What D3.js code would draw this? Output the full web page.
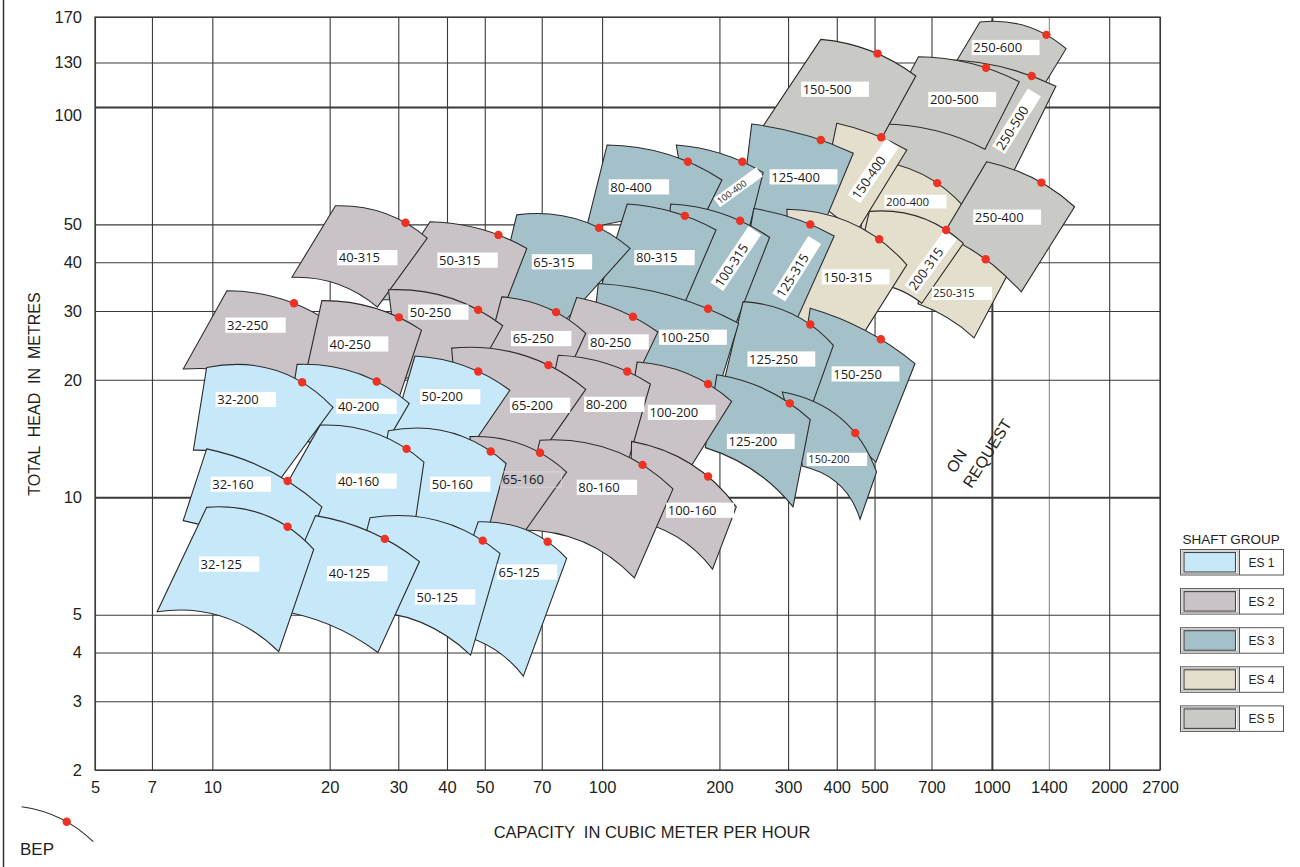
<!DOCTYPE html>
<html>
<head>
<meta charset="utf-8">
<script src="https://cdn.jsdelivr.net/npm/d3@7"></script>
<style>
  body { margin: 0; background: #fff; }
  svg { display: block; }
</style>
</head>
<body>
<svg id="chart" width="1300" height="867"></svg>
<script>
// ---------------- DATA ----------------
const xTicks = [5, 7, 10, 20, 30, 40, 50, 70, 100, 200, 300, 400, 500, 700, 1000, 1400, 2000, 2700];
const yTicks = [2, 3, 4, 5, 10, 20, 30, 40, 50, 100, 130, 170];
const shaftGroups = ["ES 1", "ES 2", "ES 3", "ES 4", "ES 5"];

// pump models (in drawing order), capacity Q in m3/h, head H in m
const models = ["250-600","250-500","200-500","150-500","200-400","250-400","150-400","125-400","100-400","80-400",
  "250-315","200-315","150-315","125-315","100-315","80-315","65-315","50-315","40-315",
  "150-250","125-250","100-250","80-250","65-250","50-250","32-250","40-250",
  "150-200","125-200","100-200","80-200","65-200","50-200","40-200","32-200",
  "100-160","80-160","65-160","50-160","40-160","32-160",
  "65-125","50-125","40-125","32-125"];
const shaft = [5,5,5,5,4,5,4,3,3,3,
  4,4,4,3,3,3,3,2,2,
  3,3,3,2,2,2,2,2,
  3,3,2,2,2,1,1,1,
  2,2,2,1,1,1,
  1,1,1,1];
// corners of each operating field [Q, H]
const topLeft = [[932,165],[674,132],[648,134.5],[364,149],[487,73.1],[970,72.4],[400,90.8],[242,90.4],[155,79.9],[103,79.9],
  [715,47.8],[485,54.0],[298,54.7],[245,54.9],[150,56.4],[116,56.4],[60.4,52.9],[36.2,50.8],[20.7,55.8],
  [342,30.5],[230,31.7],[97.8,35.3],[86.1,32.5],[55.3,32.6],[28.3,34.0],[10.9,33.8],[19.1,31.9],
  [290,18.6],[197,20.6],[123,22.2],[77.2,23.1],[41.1,24.1],[33.1,23.0],[16.5,21.9],[9.67,21.5],
  [119,13.9],[69.3,14.0],[45.8,14.3],[28.3,14.8],[18.9,15.3],[9.67,13.3],
  [48.1,8.65],[25.4,8.86],[18.4,8.97],[9.67,9.42]];
const topRight = [[1550,141],[1460,113],[1176,116],[638,120],[853,55.1],[1630,55.5],[605,77.6],[441,76.1],[259,67.9],[203,65.0],
  [1090,36.7],[845,44.7],[605,39.4],[394,46.7],[269,46.3],[196,48.4],[118,43.4],[64.1,43.4],[35.6,46.1],
  [635,22.0],[392,24.5],[224,27.9],[139,26.5],[90.8,26.3],[55.6,27.5],[20.0,28.1],[34.4,26.8],
  [506,11.6],[342,15.8],[215,17.6],[133,19.5],[90.8,18.9],[58.0,18.8],[32.0,17.4],[20.4,17.0],
  [221,9.45],[152,10.5],[81.1,11.6],[56.7,12.2],[34.9,12.3],[19.1,9.45],
  [81.1,6.97],[54.7,7.18],[34.0,6.84],[18.2,7.35]];
const bottomRight = [[1310,107],[943,47.0],[960,77.9],[478,71.0],[715,41.7],[1190,33.6],[445,47.0],[367,49.0],[237,47.8],[178,49.8],
  [900,25.6],[661,31.4],[448,24.5],[307,26.8],[217,26.8],[158,29.3],[74.4,26.0],[54.1,28.1],[26.5,30.7],
  [504,12.3],[338,16.2],[195,17.7],[118,18.8],[78.9,19.4],[45.8,19.4],[18.7,17.7],[29.4,16.7],
  [459,8.78],[309,9.45],[161,11.1],[114,11.4],[67.3,12.3],[41.9,11.7],[25.4,11.7],[14.2,10.4],
  [192,6.54],[121,6.21],[59.8,7.54],[48.6,6.90],[32.2,7.11],[16.3,6.32],
  [62.8,3.48],[46.0,3.94],[26.6,4.00],[14.8,4.02]];
const bottomLeft = [[758,117],[420,59.5],[525,90.4],[250,84.7],[459,47.0],[736,45.6],[362,56.1],[226,51.3],[168,49.8],[90.9,48.4],
  [646,31.3],[438,35.0],[303,26.8],[219,28.5],[141,32.0],[98.8,34.0],[53.1,31.1],[26.6,32.0],[16.0,36.6],
  [312,16.7],[203,18.8],[93.1,22.5],[75.7,22.5],[50.1,22.5],[30.3,20.0],[8.42,21.3],[17.4,20.9],
  [327,12.0],[184,13.4],[114,14.0],[69.3,14.0],[43.2,14.0],[28.6,14.0],[15.4,14.0],[8.94,13.2],
  [118,8.74],[60.8,8.24],[48.6,8.74],[25.4,8.24],[13.4,8.34],[8.42,8.71],
  [38.4,4.51],[21.9,5.08],[14.5,5.14],[7.22,5.09]];
// best efficiency points [Q, H]
const bep = [[1380,153],[1265,120],[966,126],[509,137],[724,63.8],[1340,64.0],[520,83.6],[364,82.3],[229,72.4],[166,72.4],
  [964,40.7],[763,48.4],[514,45.8],[342,50.0],[226,51.1],[163,52.6],[98.2,49.0],[54.2,47.0],[31.3,50.5],
  [519,25.4],[342,27.7],[187,30.4],[120,29.0],[76.2,29.8],[48.1,30.2],[16.2,31.4],[30.1,28.9],
  [446,14.6],[303,17.4],[187,19.5],[116,21.0],[72.8,21.8],[48.1,21.0],[26.4,19.8],[17.0,19.7],
  [187,11.3],[127,12.1],[69.3,13.0],[51.8,13.1],[31.5,13.3],[15.6,11.0],
  [72.5,7.69],[49.4,7.74],[27.7,7.82],[15.6,8.40]];
// where each model name sits [Q, H]
const labelAt = [[888,142],[1040,77.6],[687,104.5],[324,111],[530,57.2],[896,52.2],[443,58.1],[269,66.2],[197,56.8],[104,62.4],
  [701,33.3],[619,34.0],[366,36.7],[284,32.5],[197,34.6],[121,41.1],[66.0,40.1],[37.8,40.5],[20.9,41.1],
  [388,20.7],[236,22.6],[140,25.7],[92.2,25.0],[58.4,25.5],[31.8,29.8],[10.8,27.6],[19.8,24.7],
  [335,12.5],[209,13.9],[131,16.5],[89.9,17.3],[58.0,17.2],[34.1,18.1],[20.8,17.1],[10.2,17.8],
  [146,9.26],[86.1,10.6],[55.0,11.1],[36.2,10.8],[20.8,11.0],[9.90,10.8],
  [53.7,6.43],[33.1,5.55],[19.7,6.37],[9.24,6.74]];
const onRequestAt = [804, 11.47];

// ---------------- STYLE ----------------
const groupColors = ["#c6e8f8", "#c9c3c8", "#a4c1ca", "#e4decc", "#c9cac6"];
const labelAngle = {"100-315": -56, "125-315": -58, "150-400": -55.5, "200-315": -54, "250-500": -58, "100-400": -36};
const labelSize = {"100-400": 9, "150-200": 11, "200-400": 11.5, "250-315": 11};
const outlineOnly = new Set(["65-160"]);
const sans = "'Liberation Sans', Arial, Helvetica, sans-serif";
const labelFont = "'Open Sans', 'Noto Sans', sans-serif";

// ---------------- CHART ----------------
const svg = d3.select("#chart");
const W = 1300, H = 867;
const x = d3.scaleLog().domain([5, 2700]).range([95, 1160]);
const y = d3.scaleLog().domain([2, 170]).range([770, 17]);

svg.append("rect").attr("width", W).attr("height", H).attr("fill", "#fff");
svg.append("line").attr("x1", 3.5).attr("x2", 3.5).attr("y1", 0).attr("y2", H)
  .attr("stroke", "#333").attr("stroke-width", 1.5);

// grid + tick labels via axes
const gx = svg.append("g").attr("transform", `translate(0,${y(2)})`)
  .call(d3.axisBottom(x).tickValues(xTicks).tickFormat(d => String(d))
    .tickSize(-(y(2) - y(170))).tickPadding(11));
gx.select(".domain").remove();
gx.selectAll(".tick line")
  .attr("stroke", d => d === 1400 ? "#8c8c8c" : "#3a3a3a")
  .attr("stroke-width", d => d === 1000 ? 2 : 1.1);
gx.selectAll(".tick text").attr("font-family", sans).attr("font-size", 16.5).attr("fill", "#231f20");

const gy = svg.append("g").attr("transform", `translate(${x(5)},0)`)
  .call(d3.axisLeft(y).tickValues(yTicks).tickFormat(d => String(d))
    .tickSize(-(x(2700) - x(5))).tickPadding(13));
gy.select(".domain").remove();
gy.selectAll(".tick line")
  .attr("stroke", "#3a3a3a")
  .attr("stroke-width", d => (d === 10 || d === 100) ? 2 : 1.1);
gy.selectAll(".tick text").attr("font-family", sans).attr("font-size", 16.5).attr("fill", "#231f20");
gy.selectAll(".tick text").filter(d => d === 100).attr("dy", "0.8em");

svg.append("rect").attr("x", x(5)).attr("y", y(170))
  .attr("width", x(2700) - x(5)).attr("height", y(2) - y(170))
  .attr("fill", "none").attr("stroke", "#3a3a3a").attr("stroke-width", 1.2);

// geometry helpers
function fitControl(p0, p2, b) {
  const dx = p2[0] - p0[0], dy = p2[1] - p0[1], L2 = dx * dx + dy * dy;
  let t = ((b[0] - p0[0]) * dx + (b[1] - p0[1]) * dy) / L2;
  t = Math.max(0.15, Math.min(0.88, t));
  const k = 2 * t * (1 - t);
  return [(b[0] - (1 - t) ** 2 * p0[0] - t * t * p2[0]) / k,
          (b[1] - (1 - t) ** 2 * p0[1] - t * t * p2[1]) / k];
}
function frame(p0, p2) {
  const dx = p2[0] - p0[0], dy = p2[1] - p0[1], L = Math.hypot(dx, dy);
  return { L, u: [dx / L, dy / L], v: [dy / L, -dx / L], m: [(p0[0] + p2[0]) / 2, (p0[1] + p2[1]) / 2] };
}
const P = d => [x(d[0]), y(d[1])];

function fieldPath(i) {
  const tl = P(topLeft[i]), tr = P(topRight[i]), br = P(bottomRight[i]), bl = P(bottomLeft[i]), b = P(bep[i]);
  const ct = fitControl(tl, tr, b);
  const ft = frame(tl, tr);
  const rel = [((ct[0] - ft.m[0]) * ft.u[0] + (ct[1] - ft.m[1]) * ft.u[1]) / ft.L,
               ((ct[0] - ft.m[0]) * ft.v[0] + (ct[1] - ft.m[1]) * ft.v[1]) / ft.L];
  const fb = frame(bl, br);
  const cb = [fb.m[0] + rel[0] * fb.L * fb.u[0] + rel[1] * fb.L * fb.v[0],
              fb.m[1] + rel[0] * fb.L * fb.u[1] + rel[1] * fb.L * fb.v[1]];
  const p = d3.path();
  p.moveTo(tl[0], tl[1]);
  p.quadraticCurveTo(ct[0], ct[1], tr[0], tr[1]);
  p.lineTo(br[0], br[1]);
  p.quadraticCurveTo(cb[0], cb[1], bl[0], bl[1]);
  p.closePath();
  return p.toString();
}

// operating fields
svg.append("g").selectAll("path").data(models).join("path")
  .attr("d", (m, i) => fieldPath(i))
  .attr("fill", (m, i) => groupColors[shaft[i] - 1])
  .attr("stroke", "#2b2b2b").attr("stroke-width", 1.1).attr("stroke-linejoin", "miter");

// model labels
const lg = svg.append("g").selectAll("g").data(models).join("g")
  .attr("transform", (m, i) => `translate(${x(labelAt[i][0])},${y(labelAt[i][1])}) rotate(${labelAngle[m] || 0})`);
lg.each(function (m) {
  const g = d3.select(this);
  const fs = labelSize[m] || 13;
  const t = g.append("text").attr("x", 1.6).attr("y", fs * 0.36)
    .attr("font-family", labelFont).attr("font-size", fs).attr("fill", "#1a1a1a").text(m);
  const w = t.node().getComputedTextLength() + 19;
  const h = fs + 2.2;
  g.insert("rect", "text").attr("x", 0).attr("y", -h / 2).attr("width", w).attr("height", h)
    .attr("fill", outlineOnly.has(m) ? "none" : "#fff")
    .attr("stroke", outlineOnly.has(m) ? "#dcdcdc" : "none").attr("stroke-width", 0.8);
});

// BEP dots (on top)
svg.append("g").selectAll("circle").data(bep).join("circle")
  .attr("cx", d => x(d[0])).attr("cy", d => y(d[1])).attr("r", 4.2).attr("fill", "#ec3323");

// ON REQUEST
const onReq = svg.append("g")
  .attr("transform", `translate(${x(onRequestAt[0])},${y(onRequestAt[1])}) rotate(-58)`)
  .attr("font-family", sans).attr("font-size", 16).attr("fill", "#231f20");
onReq.append("text").attr("x", 0).attr("y", 0).text("ON");
onReq.append("text").attr("x", -4).attr("y", 22).text("REQUEST");

// axis titles
svg.append("text").attr("transform", "translate(40,394) rotate(-90)")
  .attr("text-anchor", "middle").attr("font-family", sans).attr("font-size", 16)
  .attr("fill", "#231f20").style("white-space", "pre").text("TOTAL  HEAD  IN  METRES");
svg.append("text").attr("x", 652).attr("y", 838)
  .attr("text-anchor", "middle").attr("font-family", sans).attr("font-size", 16.5)
  .attr("fill", "#231f20").style("white-space", "pre").text("CAPACITY  IN CUBIC METER PER HOUR");

// BEP legend
(function () {
  const p0 = [21.7, 806.7], p2 = [93.3, 841.7], b = [66.7, 821.7];
  const c = fitControl(p0, p2, b);
  const p = d3.path();
  p.moveTo(p0[0], p0[1]);
  p.quadraticCurveTo(c[0], c[1], p2[0], p2[1]);
  svg.append("path").attr("d", p.toString()).attr("fill", "none").attr("stroke", "#2b2b2b").attr("stroke-width", 1.1);
  svg.append("circle").attr("cx", b[0]).attr("cy", b[1]).attr("r", 4.2).attr("fill", "#ec3323");
  svg.append("text").attr("x", 20).attr("y", 855).attr("font-family", sans).attr("font-size", 17)
    .attr("fill", "#231f20").text("BEP");
})();

// shaft group legend
const leg = svg.append("g").attr("font-family", sans).attr("fill", "#231f20");
leg.append("text").attr("x", 1182.5).attr("y", 544).attr("font-size", 13.5).text("SHAFT GROUP");
const rows = leg.selectAll("g").data(shaftGroups).join("g")
  .attr("transform", (d, i) => `translate(1180.5,${549.5 + i * 39.1})`);
rows.append("rect").attr("width", 103).attr("height", 25.5)
  .attr("fill", "#fff").attr("stroke", "#555").attr("stroke-width", 1);
rows.append("rect").attr("x", 1.5).attr("y", 1.5).attr("width", 56).attr("height", 22.5)
  .attr("fill", "none").attr("stroke", "#9a9a9a").attr("stroke-width", 0.8);
rows.append("rect").attr("x", 3.5).attr("y", 3).attr("width", 51.5).attr("height", 19.5)
  .attr("fill", (d, i) => groupColors[i]).attr("stroke", "#444").attr("stroke-width", 1.1);
rows.append("line").attr("x1", 59).attr("x2", 59).attr("y1", 0).attr("y2", 25.5)
  .attr("stroke", "#555").attr("stroke-width", 1);
rows.append("text").attr("x", 81).attr("y", 17.5).attr("text-anchor", "middle")
  .attr("font-size", 12).text(d => d);
</script>
</body>
</html>
